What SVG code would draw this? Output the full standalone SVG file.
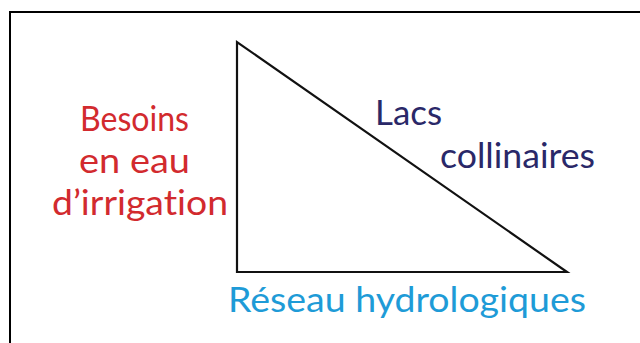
<svg xmlns="http://www.w3.org/2000/svg" width="640" height="343" viewBox="0 0 640 343">
  <style>
    .lbl { font-family: "Lato", "Liberation Sans", Arial, sans-serif; font-weight: 400; font-size: 34px; font-variant-ligatures: none; }
    .red { fill: #d22a2e; }
    .navy { fill: #2a2868; }
    .cyan { fill: #1e9bd7; }
    .frame { fill: none; stroke: #000; stroke-width: 2; }
    .tri { fill: #fff; stroke: #111; stroke-width: 2.2; stroke-linejoin: miter; }
  </style>
  <rect x="0" y="0" width="640" height="343" fill="#fff"/>
  <rect class="frame" x="10" y="12" width="640" height="345"/>
  <g id="triangle">
    <polygon class="tri" points="237,42 237,272 567,272"/>
  </g>
  <g id="besoins">
    <text class="lbl red" x="80" y="131" textLength="109" lengthAdjust="spacingAndGlyphs">Besoins</text>
    <text class="lbl red" x="79" y="173" textLength="111" lengthAdjust="spacingAndGlyphs">en eau</text>
    <text class="lbl red" x="52" y="215" textLength="176" lengthAdjust="spacingAndGlyphs">d’irrigation</text>
  </g>
  <g id="lacs">
    <text class="lbl navy" x="375" y="125" textLength="67" lengthAdjust="spacingAndGlyphs">Lacs</text>
    <text class="lbl navy" x="440" y="168" textLength="155" lengthAdjust="spacingAndGlyphs">collinaires</text>
  </g>
  <g id="reseau">
    <text class="lbl cyan" x="228" y="312" textLength="358" lengthAdjust="spacingAndGlyphs">Réseau hydrologiques</text>
  </g>
</svg>
